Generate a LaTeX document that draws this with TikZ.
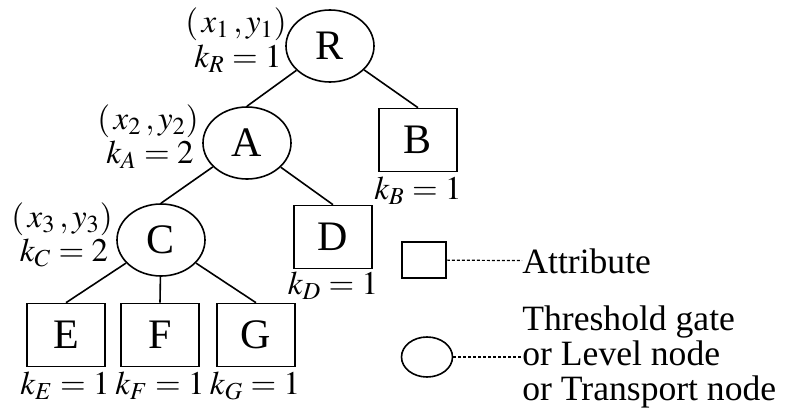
\documentclass[tikz,border=0pt]{standalone}
\usepackage{mathptmx}
\usepackage{fontspec}
\setmainfont{Liberation Serif}
\usetikzlibrary{shapes.geometric}

\begin{document}
\begin{tikzpicture}[x=0.5pt,y=-0.5pt,
    gate/.style={ellipse,draw,line width=0.8pt,minimum width=44pt,minimum height=36pt,inner sep=0pt,font=\fontsize{21}{24}\selectfont},
    attr/.style={rectangle,draw,line width=0.8pt,minimum width=39pt,minimum height=31.5pt,inner sep=0pt,font=\fontsize{21}{24}\selectfont},
    lbl/.style={inner sep=0pt,font=\fontsize{16.5}{19}\selectfont},
    legendtext/.style={inner sep=0pt,anchor=west,align=left,font=\fontsize{17.8}{17.5}\selectfont},
    edge/.style={line width=0.8pt},
    legendline/.style={line width=0.6pt,dash pattern=on 1.5pt off 1pt}]
  \useasboundingbox (0,0) rectangle (788,412);
  % gates and attributes
  \node[gate] (R) at (330,46) {R};
  \node[gate] (A) at (247,143) {A};
  \node[gate] (C) at (161,240) {C};
  \node[attr] (B) at (418,140) {B};
  \node[attr] (D) at (333,237) {D};
  \node[attr] (E) at (66,335) {E};
  \node[attr] (F) at (160,335) {F};
  \node[attr] (G) at (256,335) {G};
  \draw[edge] (R) -- (A.north);
  \draw[edge] (R) -- (B.north);
  \draw[edge] (A) -- (C.north);
  \draw[edge] (A) -- (D.north);
  \draw[edge] (C) -- (E.north);
  \draw[edge] (C) -- (F.north);
  \draw[edge] (C) -- (G.north);
  % thresholds and positions
  \node[lbl] (posR) at (236,24) {$(\,x_1\,,y_1)$};
  \node[lbl] (kR) at (238,59) {$k_R=1$};
  \node[lbl] (posA) at (148,121) {$(\,x_2\,,y_2)$};
  \node[lbl] (kA) at (150,155) {$k_A=2$};
  \node[lbl] (posC) at (62,219) {$(\,x_3\,,y_3)$};
  \node[lbl] (kC) at (64,253) {$k_C=2$};
  \node[lbl] (kB) at (418,191) {$k_B=1$};
  \node[lbl] (kD) at (333,286) {$k_D=1$};
  \node[lbl] (kE) at (65,386) {$k_E=1$};
  \node[lbl] (kF) at (160,386) {$k_F=1$};
  \node[lbl] (kG) at (255,386) {$k_G=1$};
  % legend
  \node[attr,minimum width=22pt,minimum height=18pt] (lattr) at (424,260) {};
  \node[legendtext] (tattr) at (522,261) {Attribute};
  \draw[legendline] (lattr) -- (tattr);
  \node[gate,minimum width=25.5pt,minimum height=20pt] (lgate) at (427,357) {};
  \node[legendtext] (tgate) at (522,357) {Threshold gate\\or Level node\\or Transport node};
  \draw[legendline] (lgate) -- (tgate);
\end{tikzpicture}
\end{document}
